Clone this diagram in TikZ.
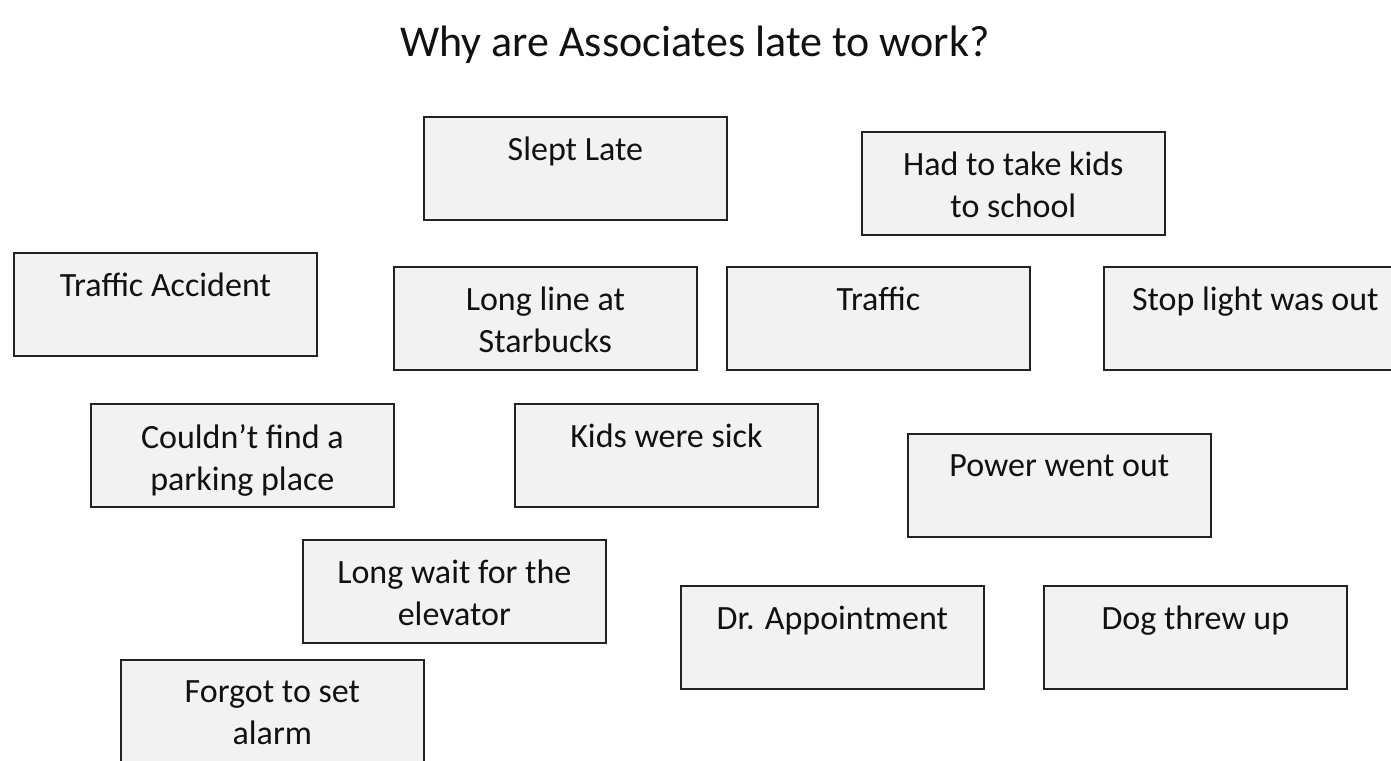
\documentclass[tikz,border=0pt]{standalone}
\usepackage{fontspec}
\setmainfont{Carlito}
\usepackage{xcolor}
\usetikzlibrary{positioning}
\definecolor{whyFill}{HTML}{F2F2F2}
\definecolor{whyInk}{HTML}{111111}
\definecolor{whyLine}{HTML}{222222}
\tikzset{
  why diagram/.style={x=0.75pt, y=-0.75pt, text=whyInk},
  why box/.style={draw=whyLine, fill=whyFill, line width=1.3pt,
    minimum width=227.25pt, minimum height=77.25pt,
    inner sep=0pt, anchor=north west},
  why text/.style={font=\fontsize{25.5}{31.5}\selectfont,
    align=center, inner sep=0pt, node distance=15.75pt},
  why title/.style={font=\fontsize{33}{40}\selectfont, anchor=base}
}

\begin{document}
\begin{tikzpicture}[why diagram]
\useasboundingbox (0,0) rectangle (1391,760);
\clip (0,0) rectangle (1391,760);
\node[why title] (title) at (695,56) {Why are Associates late to work?};
% the causes, top to bottom
\node[why box] (slept) at (423,116) {};
\node[why box] (school) at (861,131) {};
\node[why box] (accident) at (13,252) {};
\node[why box] (starbucks) at (393,266) {};
\node[why box] (traffic) at (726,266) {};
\node[why box] (stoplight) at (1103,266) {};
\node[why box] (parking) at (90,403) {};
\node[why box] (sick) at (514,403) {};
\node[why box] (power) at (907,433) {};
\node[why box] (elevator) at (302,539) {};
\node[why box] (doctor) at (680,585) {};
\node[why box] (dog) at (1043,585) {};
\node[why box] (alarm) at (120,659) {};
% their texts
\node[why text, below=of slept.north] (slept-t) {Slept Late};
\node[why text, below=of school.north] (school-t) {Had to take kids\\to school};
\node[why text, below=of accident.north] (accident-t) {Traffic Accident};
\node[why text, below=of starbucks.north] (starbucks-t) {Long line at\\Starbucks};
\node[why text, below=of traffic.north] (traffic-t) {Traffic};
\node[why text, below=of stoplight.north] (stoplight-t) {Stop light was out};
\node[why text, below=of parking.north] (parking-t) {Couldn’t find a\\parking place};
\node[why text, below=of sick.north] (sick-t) {Kids were sick};
\node[why text, below=of power.north] (power-t) {Power went out};
\node[why text, below=of elevator.north] (elevator-t) {Long wait for the\\elevator};
\node[why text, below=of doctor.north] (doctor-t) {Dr. Appointment};
\node[why text, below=of dog.north] (dog-t) {Dog threw up};
\node[why text, below=of alarm.north] (alarm-t) {Forgot to set\\alarm};
\end{tikzpicture}
\end{document}
